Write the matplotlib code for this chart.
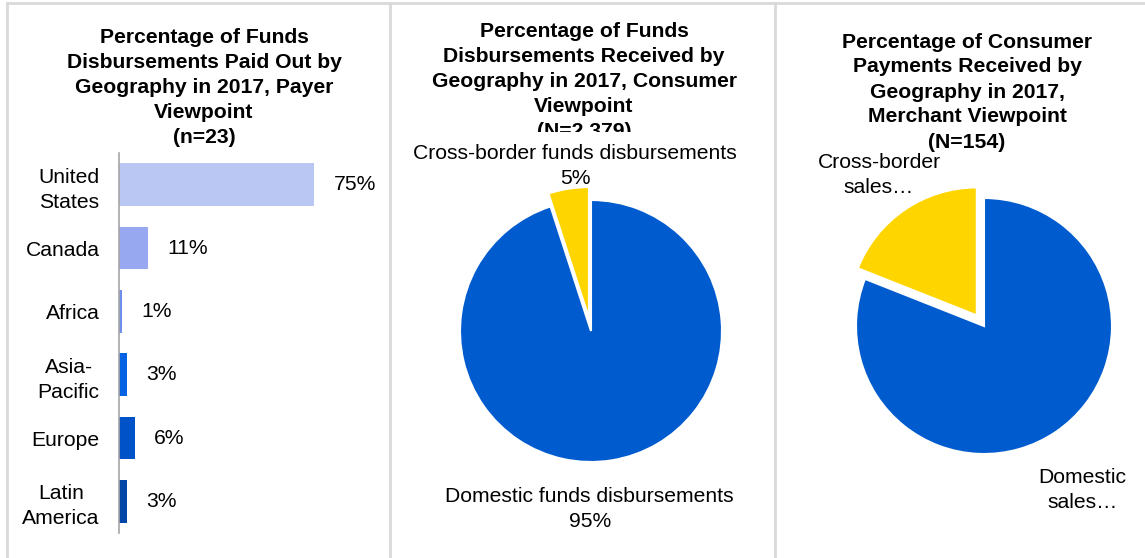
import matplotlib
matplotlib.use("Agg")
import matplotlib.pyplot as plt
from matplotlib.lines import Line2D
from matplotlib.patches import Rectangle

plt.rcParams['font.family'] = ['Liberation Sans', 'DejaVu Sans']

# payer viewpoint, share of disbursements by geography (%)
regions = ["United\nStates", "Canada", "Africa", "Asia-\nPacific", "Europe", "Latin\nAmerica"]
payer_pct = [75, 11, 1, 3, 6, 3]
bar_colors = ["#BAC7F2", "#97A7F0", "#6F8FEA", "#0563E3", "#0052C8", "#0045A8"]

# consumer viewpoint
consumer_labels = ["Cross-border funds disbursements", "Domestic funds disbursements"]
consumer_pct = [5, 95]

# merchant viewpoint (labels are truncated in the source deck)
merchant_labels = ["Cross-border\nsales\u2026", "Domestic\nsales\u2026"]
merchant_pct = [19, 81]

pie_colors = ["#FFD500", "#005BCF"]

W, H = 1145, 558
fig = plt.figure(figsize=(W / 100, H / 100), dpi=100)
fig.patch.set_facecolor("white")


def px_rect(x0, y0, x1, y1):
    # pixel box (top-left origin) -> figure fraction rect
    return [x0 / W, 1 - y1 / H, (x1 - x0) / W, (y1 - y0) / H]


fs = 15.2
ls = 1.4

# panel frame lines
grey = "#D9D9D9"
for x in (7, 389.5, 774.5):
    fig.add_artist(Line2D([x / W, x / W], [0, 1 - 3 / H], color=grey, lw=2))
fig.add_artist(Line2D([7 / W, 1], [1 - 3 / H, 1 - 3 / H], color=grey, lw=2))

# ---- bar chart ----
ax1 = fig.add_axes(px_rect(119, 153, 379, 533))
ypos = list(range(len(regions)))
ax1.barh(ypos, payer_pct, height=0.67, color=bar_colors)
ax1.set_xlim(0, 100)
ax1.set_ylim(len(regions) - 0.5, -0.5)
ax1.set_yticks(ypos)
ax1.set_yticklabels(regions, fontsize=fs, linespacing=ls)
for lab in ax1.get_yticklabels():
    lab.set_multialignment("center")
ax1.tick_params(axis="y", length=0, pad=14)
ax1.set_xticks([])
for s in ("top", "right", "bottom"):
    ax1.spines[s].set_visible(False)
ax1.spines["left"].set_color("#A6A6A6")
ax1.spines["left"].set_linewidth(1.2)
for y, v in zip(ypos, payer_pct):
    ax1.annotate(f"{v}%", (v, y), xytext=(14, 0), textcoords="offset points",
                 va="center", ha="left", fontsize=fs)

fig.text(204 / W, 1 - 87.5 / H,
         "Percentage of Funds\nDisbursements Paid Out by\nGeography in 2017, Payer\nViewpoint\n(n=23)",
         ha="center", va="center", fontsize=fs, fontweight="bold", linespacing=ls)


# ---- pies ----
def draw_pie(cx, cy, r, vals, half=145):
    ax = fig.add_axes(px_rect(cx - half, cy - half, cx + half, cy + half))
    ax.pie(vals, colors=pie_colors, startangle=90, counterclock=True,
           explode=(0.1, 0), radius=1,
           wedgeprops=dict(edgecolor="white", linewidth=1.5))
    lim = half / r
    ax.set_xlim(-lim, lim)
    ax.set_ylim(-lim, lim)
    ax.set_aspect("equal")
    ax.axis("off")
    return ax


ax2 = draw_pie(591, 331, 131, consumer_pct)
ax2.text(-0.12, 1.26, f"{consumer_labels[0]}\n{consumer_pct[0]}%", ha="center", va="center",
         fontsize=fs, linespacing=ls)
ax2.text(-0.01, -1.355, f"{consumer_labels[1]}\n{consumer_pct[1]}%", ha="center", va="center",
         fontsize=fs, linespacing=ls)

fig.text(584 / W, 1 - 81.5 / H,
         "Percentage of Funds\nDisbursements Received by\nGeography in 2017, Consumer\nViewpoint\n(N=2,379)",
         ha="center", va="center", fontsize=fs, fontweight="bold", linespacing=ls, zorder=3)
# the title box cuts off the last line
fig.add_artist(Rectangle((392 / W, 1 - 141 / H), 380 / W, 9.5 / H, transform=fig.transFigure,
                         facecolor="white", edgecolor="none", zorder=4))

ax3 = draw_pie(984, 326, 128, merchant_pct)
ax3.text(-0.82, 1.18, merchant_labels[0], ha="center", va="center", fontsize=fs, linespacing=ls)
ax3.text(0.77, -1.28, merchant_labels[1], ha="center", va="center", fontsize=fs, linespacing=ls)

fig.text(967 / W, 1 - 92 / H,
         "Percentage of Consumer\nPayments Received by\nGeography in 2017,\nMerchant Viewpoint\n(N=154)",
         ha="center", va="center", fontsize=fs, fontweight="bold", linespacing=ls)

fig.savefig("out.png", dpi=100, facecolor="white")
